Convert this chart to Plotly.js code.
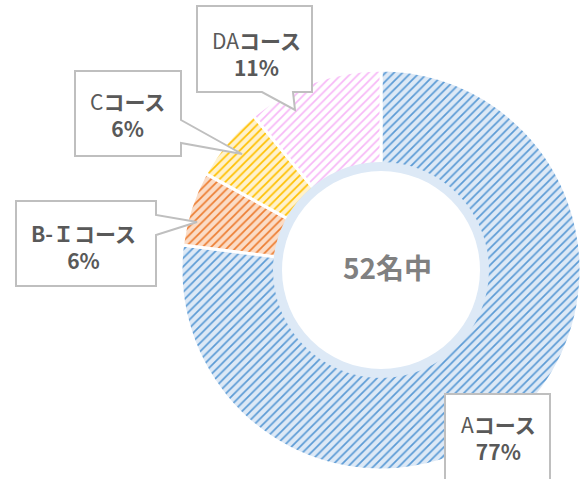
<!DOCTYPE html>
<html><head><meta charset="utf-8">
<script src="https://cdn.plot.ly/plotly-3.0.1.min.js"></script>
<style>html,body{margin:0;padding:0;background:#fff;}#chart{width:582px;height:479px;}</style>
</head><body><div id="chart"></div>
<script>
// ---- data ----
const courseNames = ["A", "B-Ｉ", "C", "DA"];
const percents = [77, 6, 6, 11];
const totalLabel = "52名中";
const fgColors = ["#5b9bd5", "#ed7d31", "#ffc000", "#f7b8f7"];
const bgColors = ["#dde9f6", "#fbdcc6", "#fff2cc", "#ffffff"];

const W = 582, H = 479;
const X = px => px / W, Y = py => 1 - py / H;
const cx = 381, cy = 270, R = 200, Rin = 104, ringIn = 99, ringOut = 108;

const pie = {
  type: "pie", labels: courseNames, values: percents, sort: false,
  direction: "clockwise", rotation: 0, hole: Rin / R,
  textinfo: "none", textposition: "none", hoverinfo: "label+percent",
  domain: {x: [X(cx - R), X(cx + R)], y: [Y(cy + R), Y(cy - R)]},
  marker: {colors: bgColors, line: {color: "#ffffff", width: 3},
    pattern: {shape: "/", fgcolor: fgColors, bgcolor: bgColors, size: 6, solidity: 0.28}},
  showlegend: false
};
const ring = {
  type: "pie", labels: ["ring"], values: [1], sort: false, hole: ringIn / ringOut,
  textinfo: "none", textposition: "none", hoverinfo: "skip",
  domain: {x: [X(cx - ringOut), X(cx + ringOut)], y: [Y(cy + ringOut), Y(cy - ringOut)]},
  marker: {colors: ["#dde9f6"], line: {width: 0}}, showlegend: false
};

function path(pts) {
  return "M " + pts.map(p => X(p[0]).toFixed(5) + " " + Y(p[1]).toFixed(5)).join(" L ") + " Z";
}
const callouts = [
  [[445,394],[550,394],[550,495],[445,495]],
  [[16,201],[156,201],[156,215],[197,222],[156,235],[156,286],[16,286]],
  [[75,71],[181,71],[181,120],[242,154],[181,143],[181,156],[75,156]],
  [[197,6],[312,6],[312,92],[293,92],[295,110],[262,92],[197,92]]
];
const shapes = callouts.map(c => ({type: "path", xref: "paper", yref: "paper", layer: "above",
  path: path(c), fillcolor: "#ffffff", line: {color: "#bfbfbf", width: 2}}));

const textPos = [[498, 437], [84, 246], [127, 115], [256, 53]];
const font = {family: "Noto Sans CJK JP, Noto Sans, sans-serif", size: 21, color: "#595959"};
const annotations = [];
courseNames.forEach((n, i) => {
  const p = textPos[i];
  const nameHtml = (i === 1 ? "<b>" + n + "</b>" : n) + "<b>コース</b>";
  annotations.push({xref: "paper", yref: "paper", x: X(p[0]), y: Y(p[1]), showarrow: false,
    text: nameHtml + "<br><b>" + percents[i] + "%</b>", font: font,
    xanchor: "center", yanchor: "middle", align: "center"});
});
annotations.push({xref: "paper", yref: "paper", x: X(cx + 6), y: Y(cy - 3), showarrow: false,
  text: "<b>" + totalLabel + "</b>", xanchor: "center", yanchor: "middle",
  font: {family: "Noto Sans CJK JP, Noto Sans, sans-serif", size: 28, color: "#808080"}});

Plotly.newPlot("chart", [pie, ring], {
  width: W, height: H, margin: {l: 0, r: 0, t: 0, b: 0},
  paper_bgcolor: "#ffffff", showlegend: false, shapes: shapes, annotations: annotations
}, {displayModeBar: false, staticPlot: true});
</script></body></html>
